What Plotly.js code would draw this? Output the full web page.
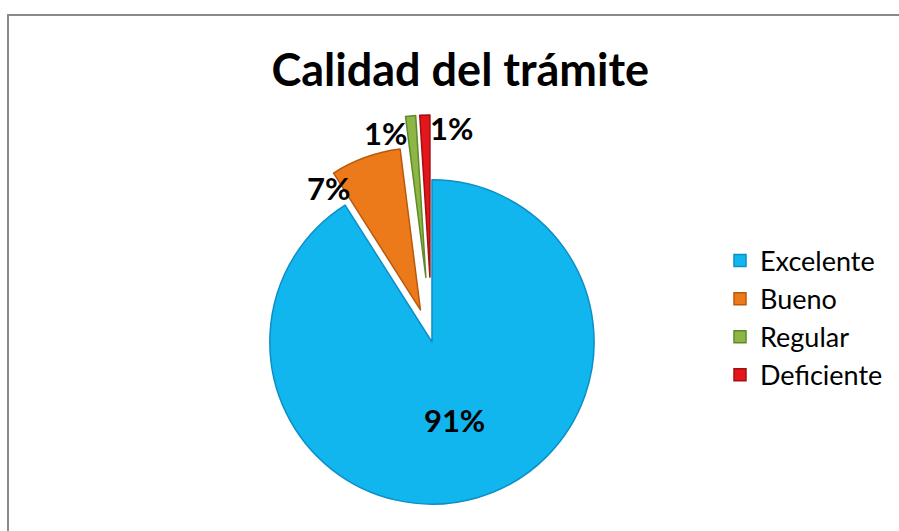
<!DOCTYPE html>
<html>
<head>
<meta charset="utf-8">
<script src="https://cdn.plot.ly/plotly-3.0.1.min.js"></script>
<style>
  html, body { margin: 0; padding: 0; width: 899px; height: 531px; overflow: hidden; background: #ffffff; }
  #frame { position: absolute; left: 7px; top: 14px; width: 1000px; height: 1000px; border: 2px solid #8a8a8a; box-sizing: border-box; }
  #chart { position: absolute; left: 0; top: 0; width: 899px; height: 620px; }
</style>
</head>
<body>
<div id="frame"></div>
<div id="chart"></div>
<script>
const chartTitle = "Calidad del trámite";
const categories = ["Excelente", "Bueno", "Regular", "Deficiente"];
const values = [91, 7, 1, 1];
const sliceColors = ["#12B6EE", "#EC7A1B", "#8DB645", "#E5161B"];
const edgeColors = ["#0C8FC4", "#B85A0E", "#5F8A2A", "#A40E10"];
const pulls = [0, 0.21, 0.40, 0.40];

const FONT = "Lato, 'DejaVu Sans', sans-serif";
const H = 620;
const total = values.reduce((a, b) => a + b, 0);
const pctText = values.map(v => Math.round(100 * v / total) + "%");

// label placement (pixels) for the labels that sit beside their slices
const labelSpots = [null, [328, 188], [385, 133], [451, 128]];

const trace = {
  type: "pie",
  labels: categories,
  values: values,
  sort: false,
  direction: "clockwise",
  rotation: 0,
  pull: pulls,
  marker: { colors: sliceColors, line: { color: edgeColors, width: 1.5 } },
  textinfo: "percent",
  texttemplate: "%{percent:.0%}",
  textposition: ["inside", "none", "none", "none"],
  insidetextorientation: "horizontal",
  insidetextfont: { family: FONT, size: 31, color: "#000000", weight: "bold" },
  automargin: false,
  domain: { x: [0.228, 0.733], y: [0.0823, 0.8145] },
  hoverinfo: "label+percent"
};

const annotations = [];
labelSpots.forEach((p, i) => {
  if (!p) return;
  annotations.push({
    text: "<b>" + pctText[i] + "</b>",
    xref: "paper", yref: "paper",
    x: p[0] / 899, y: 1 - p[1] / H,
    xanchor: "center", yanchor: "middle",
    showarrow: false,
    font: { family: FONT, size: 31, color: "#000000" }
  });
});

const layout = {
  width: 899,
  height: H,
  margin: { l: 0, r: 0, t: 0, b: 0 },
  paper_bgcolor: "rgba(0,0,0,0)",
  plot_bgcolor: "rgba(0,0,0,0)",
  title: {
    text: "<b>" + chartTitle + "</b>",
    font: { family: FONT, size: 45, color: "#000000" },
    x: 0.512, xanchor: "center", xref: "paper",
    y: 1 - 70 / H, yanchor: "middle", yref: "paper"
  },
  annotations: annotations,
  showlegend: true,
  legend: {
    x: 720 / 899, xanchor: "left",
    y: 1 - 318 / H, yanchor: "middle",
    font: { family: FONT, size: 27, color: "#000000" },
    bgcolor: "rgba(0,0,0,0)",
    traceorder: "normal"
  }
};

Plotly.newPlot("chart", [trace], layout, { displayModeBar: false, staticPlot: true });
</script>
</body>
</html>
